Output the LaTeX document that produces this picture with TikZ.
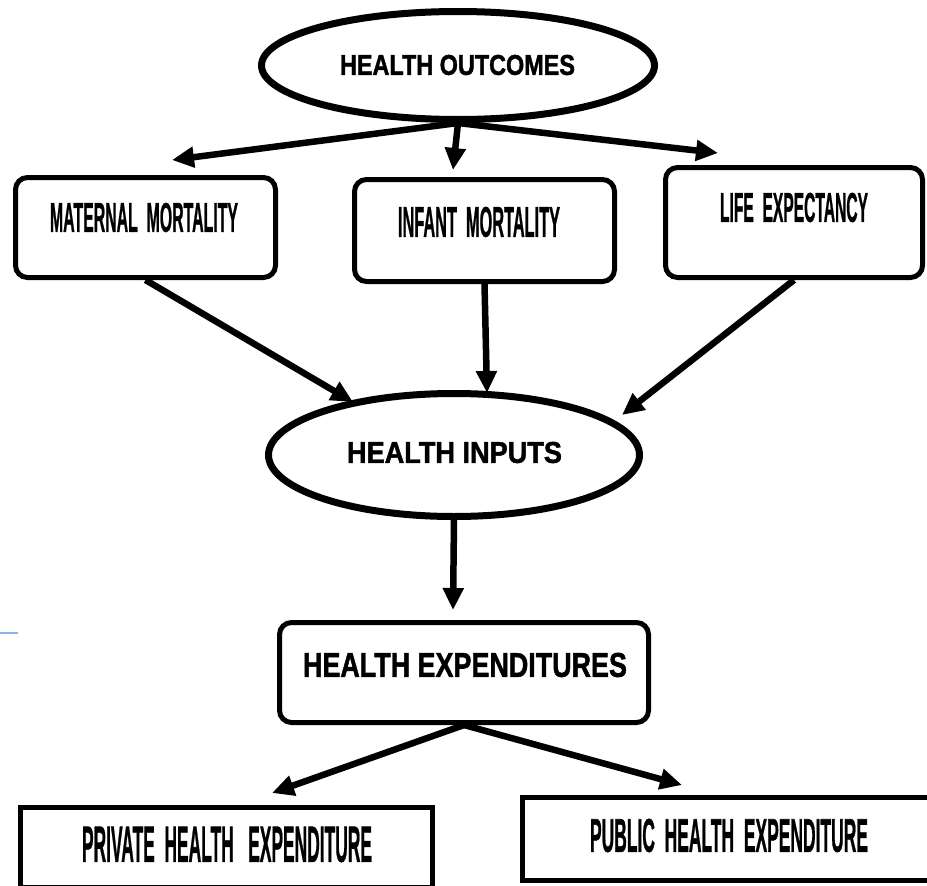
\documentclass[tikz,border=0pt]{standalone}
\usepackage{fontspec}
\setmainfont{Liberation Sans}
% heavier bold for the oval and box headings, a lighter one for the small labels
\newfontfamily\headfont[BoldFeatures={FakeBold=1.6}]{Liberation Sans}
\newfontfamily\tagfont[BoldFeatures={FakeBold=1.2}]{Liberation Sans}
\usepackage{graphicx}
\usetikzlibrary{arrows.meta,shapes.geometric}

% text set to an exact width and cap height (in pt)
\newcommand{\fitlabel}[3]{\resizebox{#1pt}{#2pt}{#3}}

\definecolor{stray}{RGB}{141,180,226}

\begin{document}
\begin{tikzpicture}[x=1pt,y=-1pt,
  oval/.style={draw, ellipse, line width=7pt, inner sep=0pt},
  roundbox/.style={draw, rectangle, rounded corners=12pt, line width=5pt, inner sep=0pt},
  plainbox/.style={draw, rectangle, line width=5pt, inner sep=0pt},
  link/.style={line width=6.5pt, -{Triangle[length=22pt,width=20pt]}},
  head/.style={font=\headfont\bfseries, inner sep=0pt},
  tag/.style={font=\tagfont\bfseries, inner sep=0pt}
]
\useasboundingbox (0,0) rectangle (927,886);
\clip (0,0) rectangle (927,886);

% ---- shapes ----
\node[oval, minimum width=393pt, minimum height=108pt] (ho) at (458,65.5) {};
\node[head] (hot) at (457.5,65) {\fitlabel{235}{20}{HEALTH OUTCOMES}};

\node[roundbox, minimum width=260pt, minimum height=100pt] (mm) at (145.5,227.5) {};
\node[tag] (mmt) at (144,217.5) {\fitlabel{188}{29}{MATERNAL\ \ MORTALITY}};

\node[roundbox, minimum width=260pt, minimum height=102pt] (im) at (484.5,230.5) {};
\node[tag] (imt) at (479,222) {\fitlabel{162}{30}{INFANT\ \ MORTALITY}};

\node[roundbox, minimum width=257pt, minimum height=110pt] (le) at (794,222.5) {};
\node[tag] (let) at (794,207.5) {\fitlabel{148}{29}{LIFE\ \ EXPECTANCY}};

\node[oval, minimum width=371pt, minimum height=123pt] (hi) at (454,455) {};
\node[head] (hit) at (454.5,452.5) {\fitlabel{215}{21}{HEALTH INPUTS}};

\node[roundbox, minimum width=369pt, minimum height=100pt] (he) at (464,672.5) {};
\node[head] (het) at (465,665) {\fitlabel{324}{24}{HEALTH EXPENDITURES}};

\node[plainbox, minimum width=412pt, minimum height=80pt] (pr) at (226.5,847.5) {};
\node[tag] (prt) at (227,844.5) {\fitlabel{290}{35}{PRIVATE\ \ HEALTH\ \ \ EXPENDITURE}};

\node[plainbox, minimum width=420pt, minimum height=83pt] (pu) at (732.5,839) {};
\node[tag] (put) at (729,835.5) {\fitlabel{278}{33}{PUBLIC\ \ HEALTH\ \ EXPENDITURE}};

% ---- arrow tips ----
\coordinate (tmm) at (172,160);
\coordinate (tim) at (453,170);
\coordinate (tle) at (718,153);
\coordinate (a1) at (353,402);
\coordinate (a2) at (487,393);
\coordinate (a3) at (622,415);
\coordinate (a4) at (453,610);
\coordinate (tpr) at (272,793);
\coordinate (tpu) at (682,785);

% ---- connectors ----
\draw[link] (ho.south) -- (tmm);
\draw[link] (ho.south) -- (tim);
\draw[link] (ho.south) -- (tle);
\draw[link] (mm.south) -- (a1);
\draw[link] (im.south) -- (a2);
\draw[link] (le.south) -- (a3);
\draw[link] (hi.south) -- (a4);
\draw[link] (he.south) -- (tpr);
\draw[link] (he.south) -- (tpu);

% small blue stroke at the left edge
\draw[stray, line width=2pt] (0,633) -- (18,633);
\end{tikzpicture}
\end{document}
